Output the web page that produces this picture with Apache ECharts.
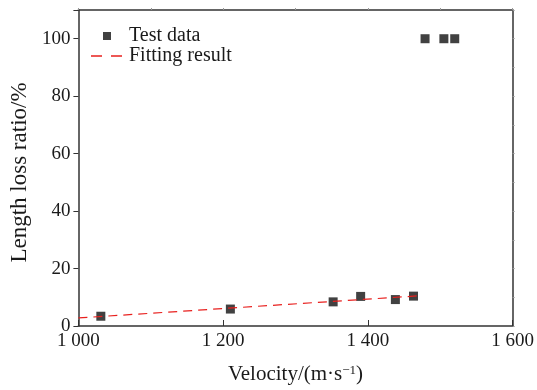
<!DOCTYPE html>
<html><head><meta charset="utf-8">
<script src="https://cdn.jsdelivr.net/npm/echarts@6/dist/echarts.min.js"></script>
<style>html,body{margin:0;padding:0;background:#fff}#c{width:537px;height:390px}</style>
</head><body><div id="c"></div>
<script>
// Test data
var testVelocity = [1031, 1210, 1352, 1390, 1438, 1463, 1479, 1505, 1520];
var testLoss = [3.4, 5.9, 8.4, 10.3, 9.2, 10.4, 100, 100, 100];
// Fitting result (linear)
var fitVelocity = [1000, 1470];
var fitLoss = [2.8, 10.5];
var xTicks = [1000, 1200, 1400, 1600];
var yTicks = [0, 20, 40, 60, 80, 100];

var font = '"Liberation Serif", "Times New Roman", serif';
var axisColor = '#333';
var textColor = '#1a1a1a';
var chart = echarts.init(document.getElementById('c'));
chart.setOption({
  animation: false,
  textStyle: {fontFamily: font},
  grid: {left: 73, right: 24, top: 10, bottom: 62},
  legend: [{
    left: 103, top: 26, padding: 0, itemWidth: 8, itemHeight: 8,
    textStyle: {fontFamily: font, fontSize: 20, color: textColor, padding: [0, 0, 0, 13]},
    data: [{name: 'Test data', icon: 'rect', itemStyle: {color: '#111'}}]
  }, {
    left: 91, top: 46, padding: 0, itemWidth: 31, itemHeight: 2,
    textStyle: {fontFamily: font, fontSize: 20, color: textColor, padding: [0, 0, 0, 2]},
    data: [{name: 'Fitting result', icon: 'path://M0,0h11v1.4h-11z M20,0h11v1.4h-11z', itemStyle: {color: '#e8201e'}}]
  }],
  xAxis: [{
    type: 'value', min: 1000, max: 1600, interval: 200,
    name: 'Velocity/(m·s{sup|−1})', nameLocation: 'middle', nameGap: 38,
    nameTextStyle: {fontFamily: font, fontSize: 21, color: textColor,
      rich: {sup: {fontFamily: font, fontSize: 13, color: textColor, verticalAlign: 'top', padding: [0, 0, 8, 0]}}},
    axisLine: {show: true, onZero: false, lineStyle: {color: axisColor, width: 1.5}},
    axisTick: {show: true, inside: true, length: 6, lineStyle: {color: axisColor}},
    axisLabel: {fontFamily: font, fontSize: 19, color: textColor, margin: 6,
      formatter: function (v) { var s = String(v); return s.length > 3 ? s.slice(0, s.length - 3) + ' ' + s.slice(-3) : s; }},
    splitLine: {show: false}
  }, {
    type: 'value', position: 'top', min: 1000, max: 1600, interval: 100,
    axisLine: {show: true, onZero: false, lineStyle: {color: axisColor, width: 1.5}},
    axisTick: {show: true, length: 2, lineStyle: {color: '#999'}},
    axisLabel: {show: false}, splitLine: {show: false}
  }],
  yAxis: [{
    type: 'value', min: 0, max: 110, interval: 20,
    name: 'Length loss ratio/%', nameLocation: 'middle', nameGap: 45,
    nameTextStyle: {fontFamily: font, fontSize: 23, color: textColor, padding: [0, 9, 0, 0]},
    axisLine: {show: true, onZero: false, lineStyle: {color: axisColor, width: 1.5}},
    axisTick: {show: true, inside: false, length: 5, lineStyle: {color: axisColor}},
    axisLabel: {fontFamily: font, fontSize: 19, color: textColor, margin: 8,
      customValues: yTicks},
    splitLine: {show: false}
  }, {
    type: 'value', position: 'right', min: 0, max: 110, interval: 10,
    axisLine: {show: true, onZero: false, lineStyle: {color: axisColor, width: 1.5}},
    axisTick: {show: true, length: 2, lineStyle: {color: '#999'}},
    axisLabel: {show: false}, splitLine: {show: false}
  }],
  series: [{
    name: 'Test data', type: 'scatter', symbol: 'rect', symbolSize: 9,
    itemStyle: {color: '#111'}, z: 3,
    data: testVelocity.map(function (v, i) { return [v, testLoss[i]]; })
  }, {
    name: 'Fitting result', type: 'line', symbol: 'none', z: 4,
    lineStyle: {color: '#e8201e', type: [9, 6], width: 1.2},
    itemStyle: {color: '#e8201e'},
    data: fitVelocity.map(function (v, i) { return [v, fitLoss[i]]; })
  }]
});
</script></body></html>
